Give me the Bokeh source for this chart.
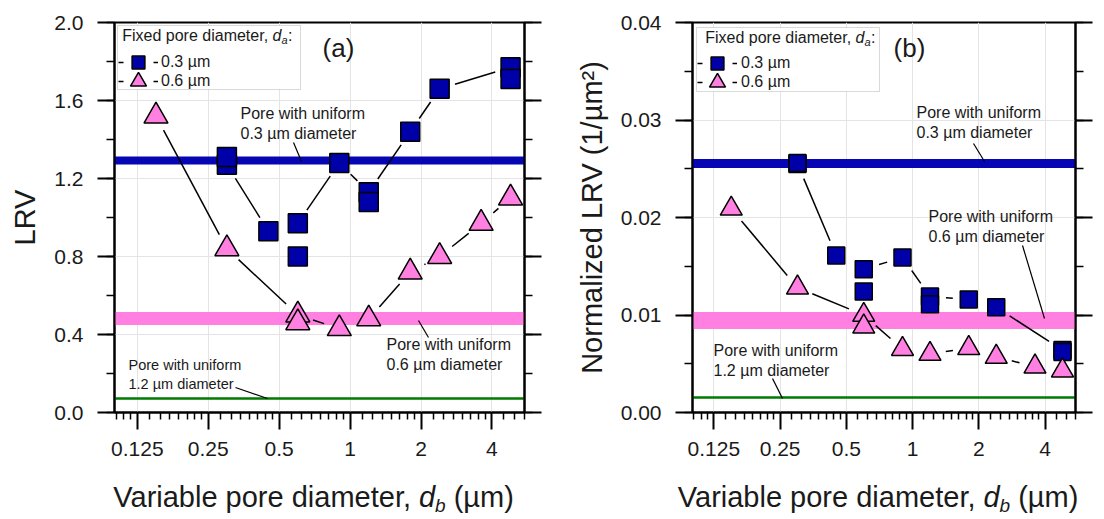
import math
from bokeh.plotting import figure
from bokeh.layouts import row, column
from bokeh.models import (Range1d, FixedTicker, SingleIntervalTicker, NumeralTickFormatter,
                          CustomJSTickFormatter, LinearAxis, Label, BoxAnnotation, Legend,
                          LegendItem, Arrow, ColumnDataSource)
from bokeh.embed import file_html
from bokeh.resources import INLINE

FONT = "Liberation Sans"
TXT = "#1a1a1a"
BLUE = "#0000A8"
BLUE_BAND = "#0606B4"
PINK = "#FF80E0"
GREEN = "#007A00"

# ---------------- data ----------------
x_ticks = [0.125, 0.25, 0.5, 1, 2, 4]
x_tick_labels = ["0.125", "0.25", "0.5", "1", "2", "4"]
series_labels = ["0.3 µm", "0.6 µm"]

# panel (a): LRV
sq_a_x = [0.3, 0.45, 0.6, 0.9, 1.2, 1.8, 2.4, 4.8]
sq_a_y = [1.27, 0.93, 0.97, 1.28, 1.13, 1.44, 1.66, 1.77]
sq_a_rep_x = [0.3, 0.6, 1.2, 4.8]
sq_a_rep_y = [1.31, 0.80, 1.08, 1.71]
tri_a_x = [0.15, 0.3, 0.6, 0.9, 1.2, 1.8, 2.4, 3.6, 4.8]
tri_a_y = [1.52, 0.84, 0.50, 0.43, 0.48, 0.72, 0.80, 0.97, 1.10]
tri_a_rep_x = [0.6]
tri_a_rep_y = [0.46]
uniform_a = [1.29, 0.48, 0.073]          # uniform 0.3, 0.6, 1.2 um pores

# panel (b): normalized LRV (1/um^2)
sq_b_x = [0.3, 0.45, 0.6, 0.9, 1.2, 1.8, 2.4, 4.8]
sq_b_y = [0.0255, 0.0161, 0.0147, 0.0159, 0.0119, 0.0116, 0.0108, 0.0064]
sq_b_rep_x = [0.3, 0.6, 1.2, 4.8]
sq_b_rep_y = [0.0256, 0.0124, 0.0111, 0.0062]
tri_b_x = [0.15, 0.3, 0.6, 0.9, 1.2, 1.8, 2.4, 3.6, 4.8]
tri_b_y = [0.0209, 0.0128, 0.0100, 0.0065, 0.0060, 0.0066, 0.0057, 0.0047, 0.0043]
tri_b_rep_x = [0.6]
tri_b_rep_y = [0.0088]
uniform_b = [0.0255, 0.0094, 0.0015]

uniform_texts = ["Pore with uniform\n0.3 µm diameter",
                 "Pore with uniform\n0.6 µm diameter",
                 "Pore with uniform\n1.2 µm diameter"]

X_LO, X_HI = 0.1, 5.5
NAN = float("nan")


def minor_log2(lo, hi):
    out = []
    m = 2.0 ** math.floor(math.log2(lo))
    while m < hi:
        for k in range(1, 8):
            v = m * (1 + k / 8)
            if lo <= v <= hi:
                out.append(v)
        m *= 2
    return out


def gapped(xs, ys, y_lo, y_hi, W, H, gap=16.0):
    """segments between consecutive points, shortened by `gap` screen px at each end"""
    l0, l1 = math.log2(X_LO), math.log2(X_HI)
    px = [(math.log2(x) - l0) / (l1 - l0) * W for x in xs]
    py = [(y - y_lo) / (y_hi - y_lo) * H for y in ys]
    x0s, y0s, x1s, y1s = [], [], [], []
    for i in range(len(xs) - 1):
        dx, dy = px[i + 1] - px[i], py[i + 1] - py[i]
        d = math.hypot(dx, dy)
        if d <= 2 * gap + 1:
            continue
        ux, uy = dx / d, dy / d
        a = (px[i] + ux * gap, py[i] + uy * gap)
        b = (px[i + 1] - ux * gap, py[i + 1] - uy * gap)
        for (sx, sy), X, Y in ((a, x0s, y0s), (b, x1s, y1s)):
            X.append(2 ** (l0 + sx / W * (l1 - l0)))
            Y.append(y_lo + sy / H * (y_hi - y_lo))
    return x0s, y0s, x1s, y1s


def make_panel(cfg):
    W, H = cfg["fw"], 390
    p = figure(width=cfg["width"], height=470, x_axis_type="log",
               x_range=Range1d(X_LO, X_HI), y_range=Range1d(0, cfg["ymax"]),
               output_backend="svg", toolbar_location=None,
               min_border_left=cfg["ml"], min_border_right=cfg["mr"],
               min_border_top=22, min_border_bottom=58)
    p.background_fill_color = "white"
    p.border_fill_color = "white"
    p.outline_line_color = "black"
    p.outline_line_width = 2

    # axes
    yt = SingleIntervalTicker(interval=cfg["yint"], num_minor_ticks=2)
    xt = FixedTicker(ticks=x_ticks, minor_ticks=minor_log2(X_LO, X_HI))
    bottom = p.xaxis[0]
    left = p.yaxis[0]
    bottom.ticker = xt
    left.ticker = yt
    bottom.formatter = CustomJSTickFormatter(
        args=dict(tvals=x_ticks, tlabels=x_tick_labels),
        code="for (let i = 0; i < tvals.length; i++) { if (Math.abs(tick - tvals[i]) < 1e-9) return tlabels[i]; } return '';")
    left.formatter = NumeralTickFormatter(format=cfg["yfmt"])
    right = LinearAxis(ticker=yt, formatter=CustomJSTickFormatter(code="return '';"))
    p.add_layout(right, "right")
    for ax in (bottom, left, right):
        ax.axis_line_width = 2
        ax.axis_line_color = "black"
        ax.major_tick_line_width = 2
        ax.minor_tick_line_width = 1.5
        ax.major_tick_in = 0
        ax.minor_tick_in = 0
        ax.major_tick_out = 17
        ax.minor_tick_out = 8
        ax.major_label_text_font = FONT
        ax.major_label_text_font_size = "21px"
        ax.major_label_text_color = TXT
    bottom.minor_tick_out = 7
    bottom.major_label_standoff = 12
    left.major_label_standoff = 14
    right.major_label_standoff = 0
    left.axis_label = cfg["ylabel"]
    left.axis_label_text_font = FONT
    left.axis_label_text_font_size = "29px"
    left.axis_label_text_font_style = "normal"
    left.axis_label_text_color = TXT
    left.axis_label_standoff = 10

    p.xgrid.ticker = FixedTicker(ticks=x_ticks)
    p.ygrid.ticker = SingleIntervalTicker(interval=cfg["yint"])
    for g in (p.xgrid[0], p.ygrid[0]):
        g.grid_line_color = "#e4e4e4"
        g.grid_line_width = 1

    # reference bands
    u = cfg["uniform"]
    p.hspan(y=[u[0]], line_color=BLUE_BAND, line_width=cfg["bw"][0])
    p.hspan(y=[u[1]], line_color=PINK, line_width=cfg["bw"][1])
    p.hspan(y=[u[2]], line_color=GREEN, line_width=cfg["bw"][2])

    # connecting lines with gaps
    for xs, ys in ((cfg["sqx"], cfg["sqy"]), (cfg["trx"], cfg["try"])):
        x0, y0, x1, y1 = gapped(xs, ys, 0, cfg["ymax"], W, H)
        p.segment(x0=x0, y0=y0, x1=x1, y1=y1, line_color="black", line_width=1.5)

    # markers
    sq_r = p.scatter(cfg["sqx"], cfg["sqy"], marker="square", size=cfg["sqs"],
                     fill_color=BLUE, line_color="black", line_width=1.5)
    p.scatter(cfg["sqrx"], cfg["sqry"], marker="square", size=cfg["sqs"],
              fill_color=BLUE, line_color="black", line_width=1.5)
    tr_r = p.scatter(cfg["trx"], cfg["try"], marker="triangle", size=cfg["trs"],
                     fill_color=PINK, line_color="black", line_width=1.5)
    p.scatter(cfg["trrx"], cfg["trry"], marker="triangle", size=cfg["trs"],
              fill_color=PINK, line_color="black", line_width=1.5)

    # legend box + title
    lb = cfg["leg"]
    p.add_layout(BoxAnnotation(left=lb["l"], right=lb["r"], top=lb["t"], bottom=lb["b"],
                               left_units="screen", right_units="screen",
                               top_units="screen", bottom_units="screen",
                               fill_color="white", fill_alpha=1.0,
                               line_color="#808080", line_width=1), "center")
    for lbl, rend, gy, gh in ((series_labels[0], sq_r, lb["gy"][0], 32),
                              (series_labels[1], tr_r, lb["gy"][1], 50)):
        stub = p.line(x="x", y="y", source=ColumnDataSource(dict(x=[NAN], y=[NAN])),
                      line_color="black", line_width=1.5, line_dash="5 30")
        legend = Legend(items=[LegendItem(label=lbl, renderers=[stub, rend])],
                        location=(lb["gx"], gy), glyph_width=40, glyph_height=gh,
                        spacing=0, padding=0, margin=0, label_standoff=lb["st"],
                        border_line_color=None, background_fill_alpha=0,
                        label_text_font=FONT, label_text_font_size="16px",
                        label_text_color=TXT)
        p.add_layout(legend, "center")
    P, cy = lb["P"], lb["cy"]
    for txt, x, y, size, style, align in (
            ("Fixed pore diameter,", P - 4.4, cy, "16px", "normal", "right"),
            ("d", P, cy, "16px", "italic", "left"),
            ("a", P + 8.9, cy - 4, "11px", "italic", "left"),
            (":", P + 15.5, cy, "16px", "normal", "left")):
        p.add_layout(Label(x=x, y=y, x_units="screen", y_units="screen", text=txt,
                           text_font=FONT, text_font_size=size, text_font_style=style,
                           text_align=align, text_baseline="middle", text_color=TXT))

    # panel tag
    p.add_layout(Label(x=cfg["tag"][1], y=cfg["tag"][2], x_units="screen", y_units="screen",
                       text=cfg["tag"][0], text_font=FONT, text_font_size="26px",
                       text_align="center", text_baseline="middle", text_color=TXT))

    # uniform-pore annotations and pointer lines
    for txt, (tx, ty, fs), (ax0, ay0, ax1, ay1) in zip(uniform_texts, cfg["ann"], cfg["ptr"]):
        p.add_layout(Label(x=tx, y=ty, x_units="screen", y_units="screen", text=txt,
                           text_font=FONT, text_font_size=fs, text_align="left",
                           text_baseline="top", text_color=TXT, text_line_height=1.2))
        p.add_layout(Arrow(start=None, end=None, x_start=ax0, y_start=ay0, x_end=ax1, y_end=ay1,
                           start_units="screen", end_units="screen",
                           line_color="black", line_width=1.2))
    return p


def make_xtitles(width, anchors):
    """strip under both panels carrying the x-axis titles (italic subscript as separate texts)"""
    q = figure(width=width, height=49, x_range=Range1d(0, 1), y_range=Range1d(0, 1),
               output_backend="svg", toolbar_location=None, min_border=0,
               x_axis_location=None, y_axis_location=None)
    q.outline_line_color = None
    q.background_fill_color = "white"
    q.border_fill_color = "white"
    q.grid.visible = False
    yc = 23
    for P in anchors:
        for txt, x, y, size, style, align in (
                ("Variable pore diameter,", P - 8, yc, "29px", "normal", "right"),
                ("d", P, yc, "29px", "italic", "left"),
                ("b", P + 16.1, yc - 9, "19px", "italic", "left"),
                ("(µm)", P + 34.7, yc, "29px", "normal", "left")):
            q.add_layout(Label(x=x, y=y, x_units="screen", y_units="screen", text=txt,
                               text_font=FONT, text_font_size=size, text_font_style=style,
                               text_align=align, text_baseline="middle", text_color=TXT))
    return q


cfg_a = dict(width=560, fw=410, ml=114, mr=36, ymax=2.0, yint=0.4, yfmt="0.0", ylabel="LRV",
             uniform=uniform_a, bw=(8, 13, 2.3),
             sqx=sq_a_x, sqy=sq_a_y, sqrx=sq_a_rep_x, sqry=sq_a_rep_y,
             trx=tri_a_x, sqs=19, trs=24,
             leg=dict(l=3, r=186, t=387, b=323, gx=4, gy=(334, 306), st=3, P=158, cy=377),
             tag=("(a)", 224, 365),
             ann=[(126, 308, "16px"), (272, 77, "16px"), (14, 56, "14.5px")],
             ptr=[(179, 270, 187, 251), (304, 92, 314, 75), (121, 25, 153, 14)])
cfg_a["try"] = tri_a_y
cfg_a["trrx"], cfg_a["trry"] = tri_a_rep_x, tri_a_rep_y

cfg_b = dict(width=536, fw=383, ml=132, mr=21, ymax=0.04, yint=0.01, yfmt="0.00",
             ylabel="Normalized LRV (1/µm²)",
             uniform=uniform_b, bw=(9, 17, 2.3),
             sqx=sq_b_x, sqy=sq_b_y, sqrx=sq_b_rep_x, sqry=sq_b_rep_y,
             trx=tri_b_x, sqs=17, trs=22,
             leg=dict(l=4, r=187, t=385, b=321, gx=5, gy=(333, 305), st=4, P=163, cy=375),
             tag=("(b)", 217, 365),
             ann=[(224, 309, "16px"), (236, 205, "16px"), (21, 71, "16px")],
             ptr=[(281, 269, 292, 251), (330, 167, 352, 94), (80, 34, 90, 14)])
cfg_b["try"] = tri_b_y
cfg_b["trrx"], cfg_b["trry"] = tri_b_rep_x, tri_b_rep_y

pa = make_panel(cfg_a)
pb = make_panel(cfg_b)
titles = make_xtitles(1096, [114 + 410 / 2 + 99.5, 560 + 132 + 383 / 2 + 99.5])
layout = column(row(pa, pb), titles)

with open("out.html", "w") as f:
    f.write(file_html(layout, INLINE))
